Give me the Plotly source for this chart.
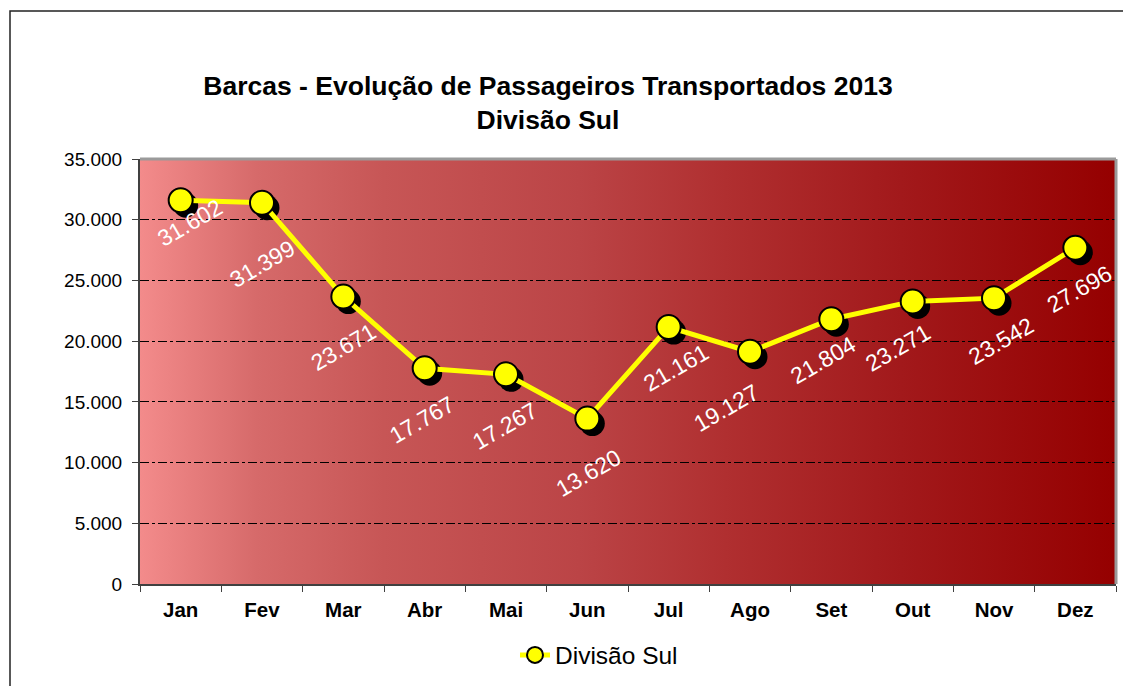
import base64
import plotly.graph_objects as go

# ---------------- data ----------------
months = ["Jan", "Fev", "Mar", "Abr", "Mai", "Jun", "Jul", "Ago", "Set", "Out", "Nov", "Dez"]
passengers = [31602, 31399, 23671, 17767, 17267, 13620, 21161, 19127, 21804, 23271, 23542, 27696]
series_name = "Divisão Sul"
title_lines = ["Barcas - Evolução de Passageiros Transportados 2013", "Divisão Sul"]
y_ticks = [0, 5000, 10000, 15000, 20000, 25000, 30000, 35000]

# label placement (screen px offsets from each point: right, down)
label_dx = [9, 0, 0, -3, -1, 1, 7, -24, -8, -15, 7, 4]
label_dy = [23, 61, 50, 52, 52, 54, 41, 56, 41, 47, 43, 41]

# ---------------- page geometry (page px; the page body adds an 8px margin) ----------------
PAGE_W, PAGE_H = 1131, 686
OFF = 8
W, H = PAGE_W - OFF, PAGE_H - OFF
plot_left, plot_right, plot_top, plot_bottom = 140, 1116, 159, 584
L, R = plot_left - OFF, W - (plot_right - OFF)
T, B = plot_top - OFF, H - (plot_bottom - OFF)
plot_w = plot_right - plot_left
plot_h = plot_bottom - plot_top


def px_x(px):  # page x -> paper x
    return (px - plot_left) / plot_w


def px_y(py):  # page y -> paper y
    return (plot_bottom - py) / plot_h


y_max = 35000
shadow_px = 5
x_unit_px = plot_w / len(months)
y_unit_px = plot_h / y_max
sx = shadow_px / x_unit_px
sy = shadow_px / y_unit_px

FONT = "Liberation Sans, Arial, sans-serif"

# gradient background as an SVG image
svg = (
    '<svg xmlns="http://www.w3.org/2000/svg" width="100" height="100" preserveAspectRatio="none">'
    '<defs><linearGradient id="g" x1="0" y1="0" x2="1" y2="0">'
    '<stop offset="0" stop-color="#F38B8B"/>'
    '<stop offset="0.12" stop-color="#D66A6A"/>'
    '<stop offset="0.25" stop-color="#C75656"/>'
    '<stop offset="0.45" stop-color="#BB4446"/>'
    '<stop offset="0.6" stop-color="#B02F30"/>'
    '<stop offset="0.78" stop-color="#A2191B"/>'
    '<stop offset="1" stop-color="#950000"/>'
    '</linearGradient></defs>'
    '<rect x="0" y="0" width="100" height="100" fill="url(#g)"/></svg>'
)
svg_uri = "data:image/svg+xml;base64," + base64.b64encode(svg.encode()).decode()

fig = go.Figure()

# invisible trace on the base axes so that the grid/axes subplot is drawn
fig.add_trace(go.Scatter(
    x=months, y=passengers, mode="lines", line=dict(width=0, color="rgba(0,0,0,0)"),
    showlegend=False, hoverinfo="skip",
))
# shadow of markers (shifted overlay axes)
fig.add_trace(go.Scatter(
    x=months, y=passengers, mode="markers", xaxis="x2", yaxis="y2",
    marker=dict(size=25, color="black", line=dict(width=0)),
    showlegend=False, hoverinfo="skip",
))
# main series
fig.add_trace(go.Scatter(
    x=months, y=passengers, mode="lines+markers", name=series_name,
    xaxis="x3", yaxis="y3",
    line=dict(color="#FFFF00", width=5),
    marker=dict(size=24, color="#FFFF00", line=dict(color="black", width=2)),
))

# data labels
for m, v, dx, dy in zip(months, passengers, label_dx, label_dy):
    fig.add_annotation(
        x=m, y=v, xref="x3", yref="y3",
        text=f"{v:,}".replace(",", "."),
        showarrow=False, textangle=-30,
        xshift=dx, yshift=-dy,
        font=dict(family=FONT, size=23, color="white"),
    )

cat_range = [-0.5, len(months) - 0.5]
axis_common = dict(type="category", categoryorder="array", categoryarray=months)

fig.update_layout(
    width=W, height=H,
    margin=dict(l=L, r=R, t=T, b=B, autoexpand=False),
    paper_bgcolor="white",
    plot_bgcolor="rgba(0,0,0,0)",
    separators=",.",
    font=dict(family=FONT, color="black"),
    title=dict(
        text="<b>" + "<br>".join(title_lines) + "</b>",
        x=px_x(548), xref="paper", xanchor="center",
        y=1 - (95 - OFF) / H, yref="container", yanchor="top",
        font=dict(family=FONT, size=26.5, color="black"),
    ),
    xaxis=dict(
        **axis_common, range=cat_range,
        showgrid=False, showline=True, linecolor="#404040", linewidth=2,
        ticks="outside", tickson="boundaries", ticklen=6, tickcolor="#404040", tickwidth=1,
        tickfont=dict(family=FONT, size=20.5, color="black", weight="bold"),
        ticklabelstandoff=6,
    ),
    yaxis=dict(
        range=[0, y_max], tickvals=y_ticks, tickformat=",",
        showgrid=True, gridcolor="black", gridwidth=1, griddash="dashdot",
        zeroline=False,
        showline=True, linecolor="#404040", linewidth=2,
        ticks="outside", ticklen=6, tickcolor="#404040", tickwidth=1,
        tickfont=dict(family=FONT, size=19, color="black"),
        ticklabelstandoff=6,
    ),
    xaxis2=dict(**axis_common, overlaying="x", range=[cat_range[0] - sx, cat_range[1] - sx], visible=False),
    yaxis2=dict(overlaying="y", range=[sy, y_max + sy], visible=False),
    xaxis3=dict(**axis_common, overlaying="x", range=cat_range, visible=False),
    yaxis3=dict(overlaying="y", range=[0, y_max], visible=False),
    legend=dict(
        x=px_x(599), y=px_y(655),
        xanchor="center", yanchor="middle",
        orientation="h", bgcolor="rgba(0,0,0,0)",
        font=dict(family=FONT, size=24.5, color="black"),
    ),
    images=[dict(
        source=svg_uri, xref="paper", yref="paper",
        x=0, y=1, sizex=1, sizey=1, sizing="stretch",
        xanchor="left", yanchor="top", layer="below",
    )],
    shapes=[
        # plot area top/right border (gray)
        dict(type="line", xref="paper", yref="paper", x0=0, x1=1, y0=1, y1=1,
             line=dict(color="#9A9A9A", width=3)),
        dict(type="line", xref="paper", yref="paper", x0=1, x1=1, y0=0, y1=1,
             line=dict(color="#9A9A9A", width=3)),
        # outer chart border
        dict(type="rect", xref="paper", yref="paper",
             x0=px_x(10), x1=px_x(PAGE_W + 20),
             y0=px_y(PAGE_H + 20), y1=px_y(11),
             line=dict(color="#222222", width=1.5), fillcolor="rgba(0,0,0,0)", layer="above"),
    ],
)

fig.write_html("out.html")
